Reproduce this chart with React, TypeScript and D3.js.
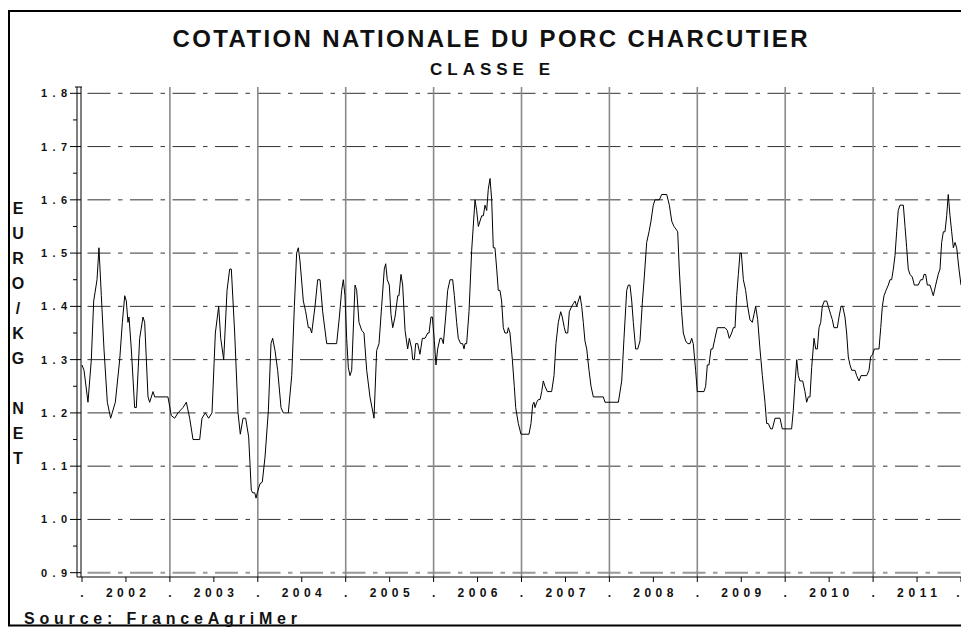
import React from "react";
import * as d3 from "d3";

const START_YEAR = 2002;
const END_YEAR = 2012;

// position in years since 1 Jan 2002
const yearPos: number[] = [
  0.000, 0.023, 0.068, 0.106, 0.133, 0.171, 0.193, 0.220, 0.250, 0.288, 0.326, 0.379, 0.429, 0.459, 0.486, 0.504,
  0.523, 0.535, 0.561, 0.599, 0.618, 0.656, 0.694, 0.713, 0.751, 0.770, 0.808, 0.827, 0.978, 1.016, 1.054, 1.092,
  1.149, 1.187, 1.225, 1.263, 1.339, 1.365, 1.403, 1.441, 1.479, 1.517, 1.555, 1.578, 1.612, 1.650, 1.680, 1.699,
  1.737, 1.775, 1.801, 1.832, 1.862, 1.896, 1.926, 1.942, 1.965, 1.980, 1.994, 2.025, 2.051, 2.082, 2.120, 2.150,
  2.169, 2.196, 2.226, 2.264, 2.290, 2.347, 2.386, 2.416, 2.442, 2.461, 2.480, 2.518, 2.545, 2.575, 2.594, 2.613,
  2.651, 2.681, 2.708, 2.738, 2.784, 2.897, 2.928, 2.954, 2.973, 2.992, 3.011, 3.030, 3.049, 3.068, 3.106, 3.125,
  3.151, 3.182, 3.208, 3.239, 3.276, 3.322, 3.352, 3.379, 3.409, 3.439, 3.455, 3.473, 3.496, 3.515, 3.535, 3.561,
  3.592, 3.606, 3.629, 3.648, 3.675, 3.705, 3.724, 3.751, 3.762, 3.781, 3.796, 3.819, 3.845, 3.872, 3.902, 3.933,
  3.948, 3.970, 3.986, 4.008, 4.027, 4.046, 4.073, 4.092, 4.111, 4.137, 4.160, 4.187, 4.217, 4.236, 4.262, 4.281,
  4.308, 4.331, 4.346, 4.357, 4.376, 4.403, 4.433, 4.471, 4.490, 4.509, 4.528, 4.547, 4.566, 4.585, 4.604, 4.622,
  4.642, 4.661, 4.679, 4.698, 4.718, 4.736, 4.755, 4.774, 4.793, 4.812, 4.839, 4.850, 4.869, 4.896, 4.918, 4.934,
  4.964, 4.994, 5.085, 5.108, 5.127, 5.142, 5.154, 5.173, 5.191, 5.211, 5.230, 5.248, 5.267, 5.294, 5.343, 5.370,
  5.392, 5.419, 5.446, 5.464, 5.487, 5.503, 5.526, 5.544, 5.571, 5.589, 5.609, 5.628, 5.646, 5.666, 5.685, 5.703,
  5.722, 5.742, 5.768, 5.791, 5.817, 5.931, 5.950, 6.102, 6.140, 6.166, 6.197, 6.215, 6.234, 6.254, 6.272, 6.299,
  6.322, 6.348, 6.374, 6.397, 6.424, 6.451, 6.473, 6.499, 6.519, 6.568, 6.595, 6.652, 6.682, 6.709, 6.735, 6.758,
  6.777, 6.795, 6.822, 6.841, 6.868, 6.891, 6.917, 6.936, 6.954, 6.981, 7.000, 7.076, 7.095, 7.114, 7.133, 7.156,
  7.175, 7.201, 7.228, 7.315, 7.341, 7.364, 7.391, 7.410, 7.429, 7.448, 7.467, 7.486, 7.501, 7.524, 7.550, 7.573,
  7.599, 7.626, 7.645, 7.664, 7.687, 7.713, 7.740, 7.770, 7.789, 7.808, 7.835, 7.854, 7.884, 7.941, 7.967, 8.073,
  8.092, 8.111, 8.131, 8.149, 8.168, 8.199, 8.225, 8.244, 8.263, 8.282, 8.301, 8.328, 8.347, 8.365, 8.385, 8.404,
  8.422, 8.445, 8.472, 8.490, 8.517, 8.536, 8.555, 8.593, 8.612, 8.635, 8.654, 8.680, 8.699, 8.718, 8.737, 8.757,
  8.794, 8.813, 8.840, 8.862, 8.927, 8.953, 8.972, 8.995, 9.014, 9.067, 9.087, 9.105, 9.124, 9.147, 9.173, 9.192,
  9.211, 9.230, 9.249, 9.268, 9.286, 9.306, 9.344, 9.363, 9.382, 9.400, 9.420, 9.446, 9.469, 9.514, 9.541, 9.564,
  9.579, 9.598, 9.617, 9.647, 9.666, 9.685, 9.712, 9.741, 9.761, 9.780, 9.799, 9.818, 9.837, 9.855, 9.875, 9.894,
  9.913, 9.932, 9.951, 9.977, 10.000,
];

// EURO / KG NET
const price: number[] = [
  1.29, 1.28, 1.22, 1.30, 1.41, 1.45, 1.51, 1.42, 1.32, 1.22, 1.19, 1.22, 1.30, 1.37, 1.42, 1.41,
  1.37, 1.38, 1.32, 1.21, 1.21, 1.34, 1.38, 1.37, 1.23, 1.22, 1.24, 1.23, 1.23, 1.195, 1.19, 1.20,
  1.21, 1.22, 1.19, 1.15, 1.15, 1.19, 1.20, 1.19, 1.20, 1.35, 1.40, 1.34, 1.30, 1.43, 1.47, 1.47,
  1.35, 1.20, 1.16, 1.19, 1.19, 1.155, 1.055, 1.05, 1.05, 1.04, 1.05, 1.067, 1.07, 1.117, 1.204, 1.33,
  1.34, 1.317, 1.28, 1.21, 1.20, 1.20, 1.27, 1.40, 1.50, 1.51, 1.485, 1.41, 1.39, 1.36, 1.36, 1.35,
  1.40, 1.45, 1.45, 1.39, 1.33, 1.33, 1.38, 1.43, 1.45, 1.42, 1.34, 1.285, 1.27, 1.28, 1.44, 1.43,
  1.37, 1.355, 1.35, 1.28, 1.23, 1.19, 1.317, 1.33, 1.40, 1.47, 1.48, 1.45, 1.44, 1.385, 1.36, 1.38,
  1.42, 1.42, 1.46, 1.44, 1.355, 1.32, 1.34, 1.32, 1.30, 1.30, 1.33, 1.33, 1.31, 1.34, 1.34, 1.35,
  1.35, 1.38, 1.38, 1.336, 1.29, 1.32, 1.34, 1.34, 1.33, 1.38, 1.43, 1.45, 1.45, 1.42, 1.37, 1.34,
  1.33, 1.33, 1.32, 1.33, 1.33, 1.39, 1.505, 1.60, 1.58, 1.55, 1.56, 1.57, 1.57, 1.59, 1.58, 1.62,
  1.64, 1.60, 1.51, 1.51, 1.47, 1.43, 1.43, 1.41, 1.36, 1.35, 1.35, 1.36, 1.35, 1.30, 1.25, 1.21,
  1.18, 1.16, 1.16, 1.18, 1.215, 1.22, 1.21, 1.22, 1.225, 1.225, 1.24, 1.26, 1.25, 1.24, 1.24, 1.27,
  1.33, 1.37, 1.39, 1.38, 1.36, 1.35, 1.35, 1.39, 1.40, 1.405, 1.41, 1.40, 1.41, 1.42, 1.40, 1.37,
  1.335, 1.32, 1.28, 1.25, 1.23, 1.23, 1.22, 1.22, 1.26, 1.34, 1.43, 1.44, 1.44, 1.41, 1.37, 1.32,
  1.32, 1.335, 1.405, 1.455, 1.52, 1.54, 1.56, 1.59, 1.60, 1.60, 1.61, 1.61, 1.59, 1.56, 1.55, 1.545,
  1.54, 1.47, 1.39, 1.35, 1.335, 1.33, 1.33, 1.34, 1.33, 1.28, 1.24, 1.24, 1.25, 1.29, 1.29, 1.32,
  1.32, 1.34, 1.36, 1.36, 1.355, 1.34, 1.35, 1.36, 1.36, 1.42, 1.46, 1.50, 1.50, 1.45, 1.43, 1.40,
  1.375, 1.37, 1.385, 1.40, 1.375, 1.32, 1.27, 1.22, 1.18, 1.18, 1.17, 1.17, 1.19, 1.19, 1.17, 1.17,
  1.205, 1.255, 1.30, 1.27, 1.26, 1.26, 1.24, 1.22, 1.23, 1.23, 1.285, 1.34, 1.32, 1.32, 1.36, 1.37,
  1.40, 1.41, 1.41, 1.40, 1.385, 1.375, 1.36, 1.36, 1.38, 1.40, 1.40, 1.38, 1.35, 1.305, 1.29, 1.28,
  1.28, 1.27, 1.26, 1.27, 1.27, 1.28, 1.305, 1.31, 1.32, 1.32, 1.36, 1.40, 1.42, 1.43, 1.44, 1.45,
  1.45, 1.47, 1.495, 1.54, 1.58, 1.59, 1.59, 1.55, 1.51, 1.47, 1.46, 1.455, 1.44, 1.44, 1.45, 1.45,
  1.46, 1.46, 1.44, 1.44, 1.43, 1.42, 1.44, 1.46, 1.47, 1.52, 1.54, 1.54, 1.57, 1.61, 1.57, 1.54,
  1.51, 1.52, 1.51, 1.47, 1.44,
];

const yTicks: number[] = [0.9, 1.0, 1.1, 1.2, 1.3, 1.4, 1.5, 1.6, 1.7, 1.8];
const yearLabels: string[] = ["2002", "2003", "2004", "2005", "2006", "2007", "2008", "2009", "2010", "2011"];
const TITLE = "COTATION NATIONALE DU PORC CHARCUTIER";
const SUBTITLE = "CLASSE E";
const Y_TITLE = "EURO/KG NET";
const SOURCE = "Source:  FranceAgriMer";

const W = 961;
const H = 627;
const FONT = "'Liberation Sans', Arial, Helvetica, sans-serif";

export default function App() {
  const plotLeft = 81;
  const axisX = 77;
  const plotTop = 87;
  const axisY = 577;

  const x = d3.scaleLinear().domain([START_YEAR, END_YEAR]).range([82, 961]);
  const y = d3.scaleLinear().domain([0.9, 1.8]).range([572.7, 93.3]);

  const points: [number, number][] = yearPos.map((p, i) => [START_YEAR + p, price[i]]);
  const line = d3
    .line<[number, number]>()
    .x((d) => x(d[0]))
    .y((d) => y(d[1]));

  const boundaries = d3.range(START_YEAR, END_YEAR + 1);
  const inner = boundaries.slice(1, -1);
  const mids = yearLabels.map((_, i) => START_YEAR + i + 0.5);
  const minorY = d3.range(0.95, 1.8, 0.1);

  const dash = "23,7.5,4.5,7.5";
  const dashOffset = 36;

  return (
    <svg
      width={W}
      height={H}
      style={{ position: "absolute", left: 0, top: 0, background: "#fff" }}
      fontFamily={FONT}
    >
      <rect x={0} y={0} width={W} height={H} fill="#fff" />
      {/* outer frame */}
      <line x1={9} y1={11} x2={W} y2={11} stroke="#000" strokeWidth={2} />
      <line x1={9} y1={10} x2={9} y2={626} stroke="#000" strokeWidth={2} />
      <line x1={8} y1={625.5} x2={W} y2={625.5} stroke="#000" strokeWidth={2} />

      {/* titles */}
      <text x={490} y={47} textAnchor="middle" fontSize={24} fontWeight="bold" fill="#111"
        textLength={635} lengthAdjust="spacing">{TITLE}</text>
      <text x={490} y={75} textAnchor="middle" fontSize={17} fontWeight="bold" fill="#111"
        textLength={120} lengthAdjust="spacing">{SUBTITLE}</text>

      {/* horizontal gridlines */}
      {yTicks.map((t) => (
        <line key={"h" + t} x1={plotLeft} x2={W} y1={y(t)} y2={y(t)}
          stroke={t < 0.95 ? "#999" : "#333"} strokeWidth={t < 0.95 ? 2 : 1}
          strokeDasharray={dash} strokeDashoffset={dashOffset} />
      ))}

      {/* vertical year gridlines */}
      {inner.map((b) => (
        <line key={"v" + b} x1={x(b)} x2={x(b)} y1={plotTop} y2={axisY}
          stroke="#8a8a8a" strokeWidth={1.6} />
      ))}

      {/* axes */}
      <line x1={axisX} x2={axisX} y1={plotTop} y2={axisY} stroke="#000" strokeWidth={1} />
      <line x1={plotLeft} x2={plotLeft} y1={plotTop} y2={axisY} stroke="#000" strokeWidth={1} />
      <line x1={75} x2={plotLeft + 1} y1={plotTop} y2={plotTop} stroke="#000" strokeWidth={1} />
      <line x1={axisX} x2={W} y1={axisY} y2={axisY} stroke="#000" strokeWidth={1} />

      {/* y ticks */}
      {yTicks.map((t) => (
        <g key={"yt" + t}>
          <line x1={70} x2={plotLeft} y1={y(t)} y2={y(t)} stroke="#000" strokeWidth={1} />
          <text x={67} y={y(t) + 4} textAnchor="end" fontSize={11} fontWeight="bold" fill="#111"
            textLength={26} lengthAdjust="spacing">{t.toFixed(1)}</text>
        </g>
      ))}
      {minorY.map((t) => (
        <line key={"ym" + t} x1={73} x2={axisX} y1={y(t)} y2={y(t)} stroke="#000" strokeWidth={1} />
      ))}

      {/* x ticks */}
      {boundaries.map((b) => (
        <g key={"xb" + b}>
          <line x1={x(b)} x2={x(b)} y1={axisY} y2={582} stroke="#000" strokeWidth={1} />
          <text x={Math.min(x(b), W - 3)} y={597} textAnchor="middle" fontSize={12} fontWeight="bold" fill="#111">.</text>
        </g>
      ))}
      {mids.map((m, i) => (
        <g key={"xm" + m}>
          <line x1={x(m)} x2={x(m)} y1={axisY} y2={582} stroke="#000" strokeWidth={1} />
          <text x={x(m)} y={597} textAnchor="middle" fontSize={12} fontWeight="bold" fill="#111"
            textLength={40} lengthAdjust="spacing">{yearLabels[i]}</text>
        </g>
      ))}

      {/* y-axis title, stacked letters */}
      {Y_TITLE.split("").map((ch, i) => (
        <text key={"yl" + i} x={18} y={208 + i * 25 + 6} textAnchor="middle" fontSize={16}
          fontWeight="bold" fill="#111">{ch}</text>
      ))}

      {/* data line */}
      <path d={line(points) || ""} fill="none" stroke="#000" strokeWidth={1} strokeLinejoin="round" />

      {/* source */}
      <text x={24} y={624} fontSize={16} fontWeight="bold" fill="#111"
        textLength={273} lengthAdjust="spacing">{SOURCE}</text>
    </svg>
  );
}
